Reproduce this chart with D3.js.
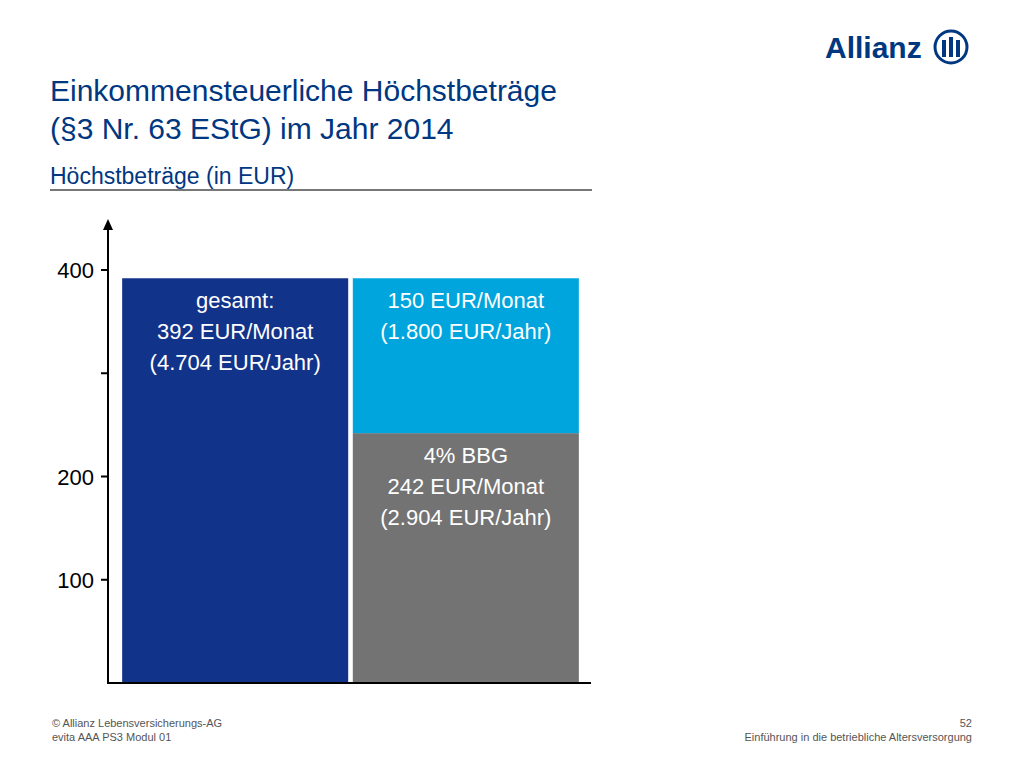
<!DOCTYPE html>
<html><head><meta charset="utf-8">
<script src="https://cdn.jsdelivr.net/npm/d3@7"></script>
<style>body{margin:0;background:#fff}text{font-family:"Liberation Sans",Arial,sans-serif}</style>
</head><body><svg id="c" width="1024" height="768"></svg>
<script>
const categories = ["gesamt", "aufgeteilt"];
const stacks = [
  [{key: "gesamt", value: 392, color: "#12338a", label: ["gesamt:", "392 EUR/Monat", "(4.704 EUR/Jahr)"]}],
  [{key: "BBG", value: 242, color: "#737373", label: ["4% BBG", "242 EUR/Monat", "(2.904 EUR/Jahr)"]},
   {key: "Zusatz", value: 150, color: "#00a5dd", label: ["150 EUR/Monat", "(1.800 EUR/Jahr)"]}]
];
const tickValues = [100, 200, 300, 400];
const tickLabels = ["100", "200", "", "400"];

const svg = d3.select("#c");
const blue = "#003781";

// Logo
svg.append("text").attr("x", 825).attr("y", 58).attr("font-size", 30).attr("font-weight", "bold")
  .attr("fill", blue).text("Allianz");
const lg = svg.append("g").attr("transform", "translate(951,47)");
lg.append("circle").attr("r", 16).attr("fill", "none").attr("stroke", blue).attr("stroke-width", 3);
[-7, 0, 7].forEach((dx, i) => lg.append("rect").attr("x", dx - 2).attr("y", i === 1 ? -10 : -7)
  .attr("width", 4).attr("height", i === 1 ? 20 : 17).attr("fill", blue));

// Titles
svg.append("text").attr("x", 50).attr("y", 101).attr("font-size", 30).attr("fill", blue)
  .text("Einkommensteuerliche Höchstbeträge");
svg.append("text").attr("x", 50).attr("y", 139).attr("font-size", 30).attr("fill", blue)
  .text("(§3 Nr. 63 EStG) im Jahr 2014");
svg.append("text").attr("x", 50).attr("y", 184).attr("font-size", 23).attr("fill", blue)
  .text("Höchstbeträge (in EUR)");
svg.append("line").attr("x1", 50).attr("x2", 592).attr("y1", 190).attr("y2", 190)
  .attr("stroke", "#777").attr("stroke-width", 2);

// Scales
const y = d3.scaleLinear().domain([0, 400]).range([683, 270]);
const x = d3.scaleBand().domain(categories).range([121, 580]).paddingInner(0.02).paddingOuter(0.005);

const g = svg.append("g");
stacks.forEach((stack, i) => {
  let base = 0;
  stack.forEach(s => {
    const y0 = y(base), y1 = y(base + s.value);
    g.append("rect").attr("x", x(categories[i])).attr("width", x.bandwidth())
      .attr("y", y1).attr("height", y0 - y1).attr("fill", s.color);
    s.label.forEach((t, j) => g.append("text").attr("x", x(categories[i]) + x.bandwidth() / 2)
      .attr("y", y1 + 30 + j * 31).attr("text-anchor", "middle").attr("font-size", 22)
      .attr("fill", "#fff").text(t));
    base += s.value;
  });
});

// Axes
const ax = svg.append("g");
ax.append("line").attr("x1", 108).attr("x2", 108).attr("y1", 226).attr("y2", 684)
  .attr("stroke", "#000").attr("stroke-width", 2);
ax.append("path").attr("d", "M103,230 L108,219 L113,230 Z").attr("fill", "#000");
ax.append("line").attr("x1", 107).attr("x2", 591).attr("y1", 683).attr("y2", 683)
  .attr("stroke", "#000").attr("stroke-width", 2);
tickValues.forEach((v, i) => {
  ax.append("line").attr("x1", 101).attr("x2", 108).attr("y1", y(v)).attr("y2", y(v))
    .attr("stroke", "#000").attr("stroke-width", 2);
  ax.append("text").attr("x", 94).attr("y", y(v) + 8).attr("text-anchor", "end")
    .attr("font-size", 22).attr("fill", "#000").text(tickLabels[i]);
});

// Footer
const f = [["© Allianz Lebensversicherungs-AG", 52, 727, "start"], ["evita AAA PS3 Modul 01", 52, 741, "start"],
  ["52", 972, 727, "end"], ["Einführung in die betriebliche Altersversorgung", 972, 741, "end"]];
f.forEach(d => svg.append("text").attr("x", d[1]).attr("y", d[2]).attr("text-anchor", d[3])
  .attr("font-size", 11).attr("fill", "#555").text(d[0]));
</script></body></html>
